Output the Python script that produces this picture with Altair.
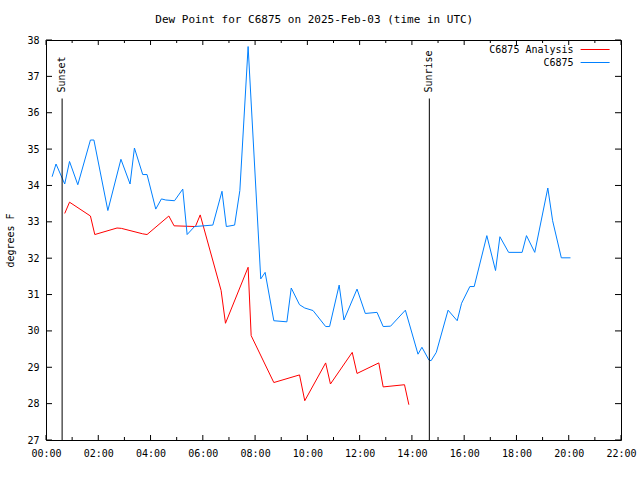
import altair as alt
import pandas as pd

# ---- data ----
blue_time = ["00:14", "00:23", "00:43", "00:54", "01:13", "01:42", "01:50", "02:22", "02:52",
             "03:13", "03:23", "03:42", "03:52", "04:12", "04:25", "04:35", "04:55", "05:14",
             "05:24", "05:41", "06:23", "06:44", "06:54", "07:13", "07:25", "07:44", "08:13",
             "08:23", "08:43", "09:13", "09:23", "09:42", "09:54", "10:13", "10:42", "10:51",
             "11:13", "11:24", "11:54", "12:13", "12:40", "12:54", "13:11", "13:45", "14:14",
             "14:23", "14:39", "14:44", "14:56", "15:23", "15:44", "15:54", "16:13", "16:23",
             "16:52", "17:12", "17:22", "17:42", "18:13", "18:23", "18:42", "19:12", "19:23",
             "19:43", "20:04"]
blue_dew = [34.24, 34.59, 34.04, 34.66, 34.02, 35.25, 35.25, 33.31, 34.72,
            34.04, 35.03, 34.30, 34.30, 33.35, 33.63, 33.60, 33.58, 33.90,
            32.65, 32.87, 32.91, 33.84, 32.87, 32.91, 33.86, 37.82, 31.43,
            31.61, 30.28, 30.25, 31.18, 30.72, 30.63, 30.56, 30.12, 30.12,
            31.26, 30.30, 31.15, 30.48, 30.51, 30.12, 30.13, 30.57, 29.36,
            29.55, 29.20, 29.18, 29.41, 30.57, 30.28, 30.76, 31.22, 31.22,
            32.62, 31.66, 32.59, 32.16, 32.16, 32.62, 32.16, 33.93, 33.03,
            32.01, 32.01]

red_time = ["00:43", "00:54", "01:42", "01:52", "02:43", "02:53", "03:42", "03:52", "04:42",
            "04:54", "05:43", "05:54", "06:42", "06:52", "07:44", "07:51", "08:43", "09:42",
            "09:54", "10:42", "10:53", "11:43", "11:54", "12:44", "12:54", "13:43", "13:53"]
red_dew = [33.23, 33.54, 33.16, 32.65, 32.83, 32.82, 32.67, 32.65, 33.16,
           32.89, 32.87, 33.19, 31.11, 30.21, 31.75, 29.87, 28.58, 28.79,
           28.08, 29.12, 28.54, 29.41, 28.83, 29.12, 28.46, 28.52, 27.97]

x_major = [0, 2, 4, 6, 8, 10, 12, 14, 16, 18, 20, 22]
x_minor = [1, 3, 5, 7, 9, 11, 13, 15, 17, 19, 21]
y_ticks = [27, 28, 29, 30, 31, 32, 33, 34, 35, 36, 37, 38]

sun_time = ["00:37", "14:40"]
sun_label = ["Sunset", "Sunrise"]

series_names = ["C6875 Analysis", "C6875"]
series_colors = ["#ff0000", "#0080ff"]

title_text = "Dew Point for C6875 on 2025-Feb-03 (time in UTC)"
y_title = "degrees F"


def hours(s):
    h, m = s.split(":")
    return int(h) + int(m) / 60.0


blue_df = pd.DataFrame({"t": [hours(s) for s in blue_time], "v": blue_dew})
red_df = pd.DataFrame({"t": [hours(s) for s in red_time], "v": red_dew})
sun_df = pd.DataFrame({"t": [hours(s) for s in sun_time], "label": sun_label})
xmaj_df = pd.DataFrame({"t": x_major})
xmin_df = pd.DataFrame({"t": x_minor})
yt_df = pd.DataFrame({"v": y_ticks})
one_df = pd.DataFrame({"k": [0]})

W, H = 575, 400
FONT = "DejaVu Sans Mono"

xscale = alt.Scale(domain=[0, 22], nice=False, zero=False)
yscale = alt.Scale(domain=[27, 38], nice=False, zero=False)

xaxis = alt.Axis(values=x_major,
                 labelExpr="(datum.value < 10 ? '0' : '') + datum.value + ':00'",
                 ticks=False, domain=False, grid=False, labelPadding=8,
                 labelFont=FONT, labelFontSize=10, labelColor="black",
                 labelFlush=False, title=None)
yaxis = alt.Axis(values=y_ticks, ticks=False, domain=False, grid=False,
                 labelPadding=7, labelFont=FONT, labelFontSize=10, labelColor="black",
                 title=y_title, titleFont=FONT, titleFontSize=10, titleFontWeight="normal",
                 titleColor="black", titleX=-36, titleY=H / 2, titleAngle=270,
                 titleAlign="center", titleBaseline="middle")

X = alt.X("t:Q", scale=xscale, axis=xaxis)
Y = alt.Y("v:Q", scale=yscale, axis=yaxis)

red_line = alt.Chart(red_df).mark_line(color=series_colors[0], strokeWidth=1).encode(x=X, y=Y)
blue_line = alt.Chart(blue_df).mark_line(color=series_colors[1], strokeWidth=1).encode(x=X, y=Y)


# inward ticks, gnuplot style (mirrored on all sides)
def xticks(df, length, top):
    y0 = 0 if top else H
    y1 = length if top else H - length
    return alt.Chart(df).mark_rule(color="black", strokeWidth=1).encode(
        x=X, y=alt.value(y0), y2=alt.value(y1))


def yticks(length, right):
    x0 = W if right else 0
    x1 = W - length if right else length
    return alt.Chart(yt_df).mark_rule(color="black", strokeWidth=1).encode(
        y=Y, x=alt.value(x0), x2=alt.value(x1))


tick_layers = [xticks(xmaj_df, 5, False), xticks(xmaj_df, 5, True),
               xticks(xmin_df, 3, False), xticks(xmin_df, 3, True),
               yticks(6, False), yticks(6, True)]

sun_rules = alt.Chart(sun_df).mark_rule(color="black", strokeWidth=1).encode(
    x=X, y=alt.value(58.5), y2=alt.value(H))
sun_text = alt.Chart(sun_df).mark_text(angle=270, align="left", baseline="middle",
                                        font=FONT, fontSize=10, color="black").encode(
    x=X, y=alt.value(52.5), text="label:N")

# legend (labels left of line samples, as in the reference)
legend_layers = []
for i, (name, col) in enumerate(zip(series_names, series_colors)):
    yy = 9.5 + 13 * i
    legend_layers.append(
        alt.Chart(one_df).mark_text(align="right", baseline="middle", font=FONT,
                                    fontSize=10, color="black").encode(
            x=alt.value(527.6), y=alt.value(yy), text=alt.value(name)))
    legend_layers.append(
        alt.Chart(one_df).mark_rule(color=col, strokeWidth=1).encode(
            x=alt.value(534.6), x2=alt.value(563.6), y=alt.value(yy)))

title_mark = alt.Chart(one_df).mark_text(align="center", baseline="middle", font=FONT,
                                         fontSize=11, color="black").encode(
    x=alt.value(268.3), y=alt.value(-20.5), text=alt.value(title_text))

chart = alt.layer(
    red_line, blue_line, sun_rules, sun_text, *tick_layers, *legend_layers, title_mark
).properties(
    width=W, height=H,
    autosize=alt.AutoSizeParams(type="none"),
    padding={"left": 46, "top": 40, "right": 19, "bottom": 40},
    background="white",
).configure_view(stroke="black", strokeWidth=1)

chart.save("out.html", embed_options={"renderer": "svg", "actions": False})
